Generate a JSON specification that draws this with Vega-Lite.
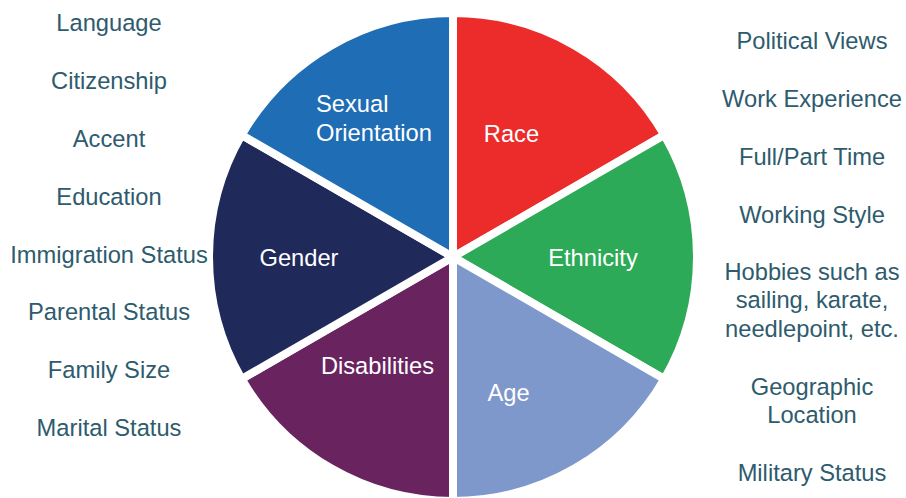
{
  "$schema": "https://vega.github.io/schema/vega-lite/v6.json",
  "width": 906,
  "height": 482,
  "padding": {"top": 16, "left": 0, "right": 0, "bottom": 0},
  "autosize": {"type": "none"},
  "background": "white",
  "config": {"view": {"stroke": null}, "font": "Liberation Sans"},
  "layer": [
    {
      "data": {"values": [
        {"cat": "Race", "label": "Race", "i": 1, "share": 1},
        {"cat": "Ethnicity", "label": "Ethnicity", "i": 2, "share": 1},
        {"cat": "Age", "label": "Age", "i": 3, "share": 1},
        {"cat": "Disabilities", "label": "Disabilities", "i": 4, "share": 1},
        {"cat": "Gender", "label": "Gender", "i": 5, "share": 1},
        {"cat": "Sexual Orientation", "label": "Sexual\nOrientation", "i": 6, "share": 1}
      ]},
      "encoding": {
        "theta": {"field": "share", "type": "quantitative", "stack": true},
        "order": {"field": "i", "type": "quantitative"},
        "color": {
          "field": "cat", "type": "nominal", "legend": null,
          "scale": {
            "domain": ["Race", "Ethnicity", "Age", "Disabilities", "Gender", "Sexual Orientation"],
            "range": ["#EC2B2B", "#2DAA57", "#7F98CB", "#69235F", "#1F2A5B", "#1F6DB5"]
          }
        }
      },
      "layer": [
        {"mark": {"type": "arc", "outerRadius": 244, "stroke": "white", "strokeWidth": 8}},
        {
          "mark": {"type": "text", "radius": 145, "fontSize": 23.7, "fill": "white", "align": "center", "baseline": "middle", "dx": -14, "dy": 4},
          "encoding": {
            "text": {"condition": {"test": "datum.cat === 'Race'", "field": "label"}, "value": ""},
            "color": {"value": "white"}
          }
        },
        {
          "mark": {"type": "text", "radius": 145, "fontSize": 23.7, "fill": "white", "align": "center", "baseline": "middle", "dx": -5, "dy": 2},
          "encoding": {
            "text": {"condition": {"test": "datum.cat === 'Ethnicity'", "field": "label"}, "value": ""},
            "color": {"value": "white"}
          }
        },
        {
          "mark": {"type": "text", "radius": 145, "fontSize": 23.7, "fill": "white", "align": "center", "baseline": "middle", "dx": -17, "dy": 11},
          "encoding": {
            "text": {"condition": {"test": "datum.cat === 'Age'", "field": "label"}, "value": ""},
            "color": {"value": "white"}
          }
        },
        {
          "mark": {"type": "text", "radius": 145, "fontSize": 23.7, "fill": "white", "align": "center", "baseline": "middle", "dx": -3, "dy": -16},
          "encoding": {
            "text": {"condition": {"test": "datum.cat === 'Disabilities'", "field": "label"}, "value": ""},
            "color": {"value": "white"}
          }
        },
        {
          "mark": {"type": "text", "radius": 145, "fontSize": 23.7, "fill": "white", "align": "center", "baseline": "middle", "dx": -9, "dy": 2},
          "encoding": {
            "text": {"condition": {"test": "datum.cat === 'Gender'", "field": "label"}, "value": ""},
            "color": {"value": "white"}
          }
        },
        {
          "mark": {"type": "text", "radius": 160, "fontSize": 23.7, "fill": "white", "lineBreak": "\n", "lineHeight": 29, "align": "left", "baseline": "middle", "dx": -57, "dy": -13.5},
          "encoding": {
            "text": {"condition": {"test": "datum.cat === 'Sexual Orientation'", "field": "label"}, "value": ""},
            "color": {"value": "white"}
          }
        }
      ]
    },
    {
      "data": {"values": [
        {"item": "Language", "side": "left", "v": 22},
        {"item": "Citizenship", "side": "left", "v": 80},
        {"item": "Accent", "side": "left", "v": 138},
        {"item": "Education", "side": "left", "v": 196},
        {"item": "Immigration Status", "side": "left", "v": 254},
        {"item": "Parental Status", "side": "left", "v": 311},
        {"item": "Family Size", "side": "left", "v": 369},
        {"item": "Marital Status", "side": "left", "v": 427},
        {"item": "Political Views", "side": "right", "v": 40},
        {"item": "Work Experience", "side": "right", "v": 98},
        {"item": "Full/Part Time", "side": "right", "v": 156},
        {"item": "Working Style", "side": "right", "v": 214},
        {"item": "Hobbies such as\nsailing, karate,\nneedlepoint, etc.", "side": "right", "v": 271},
        {"item": "Geographic\nLocation", "side": "right", "v": 386},
        {"item": "Military Status", "side": "right", "v": 472}
      ]},
      "mark": {"type": "text", "fontSize": 23.7, "fill": "#2E5B6D", "lineBreak": "\n", "lineHeight": 28.7, "align": "center", "baseline": "middle", "dy": 1.5},
      "encoding": {
        "x": {"field": "side", "type": "nominal", "axis": null, "scale": {"type": "point", "padding": 0, "domain": ["left", "right"], "range": [109, 812]}},
        "y": {"field": "v", "type": "quantitative", "axis": null, "scale": {"domain": [0, 498], "range": [-16, 482]}},
        "text": {"field": "item"},
        "color": {"value": "#2E5B6D"}
      }
    }
  ]
}
